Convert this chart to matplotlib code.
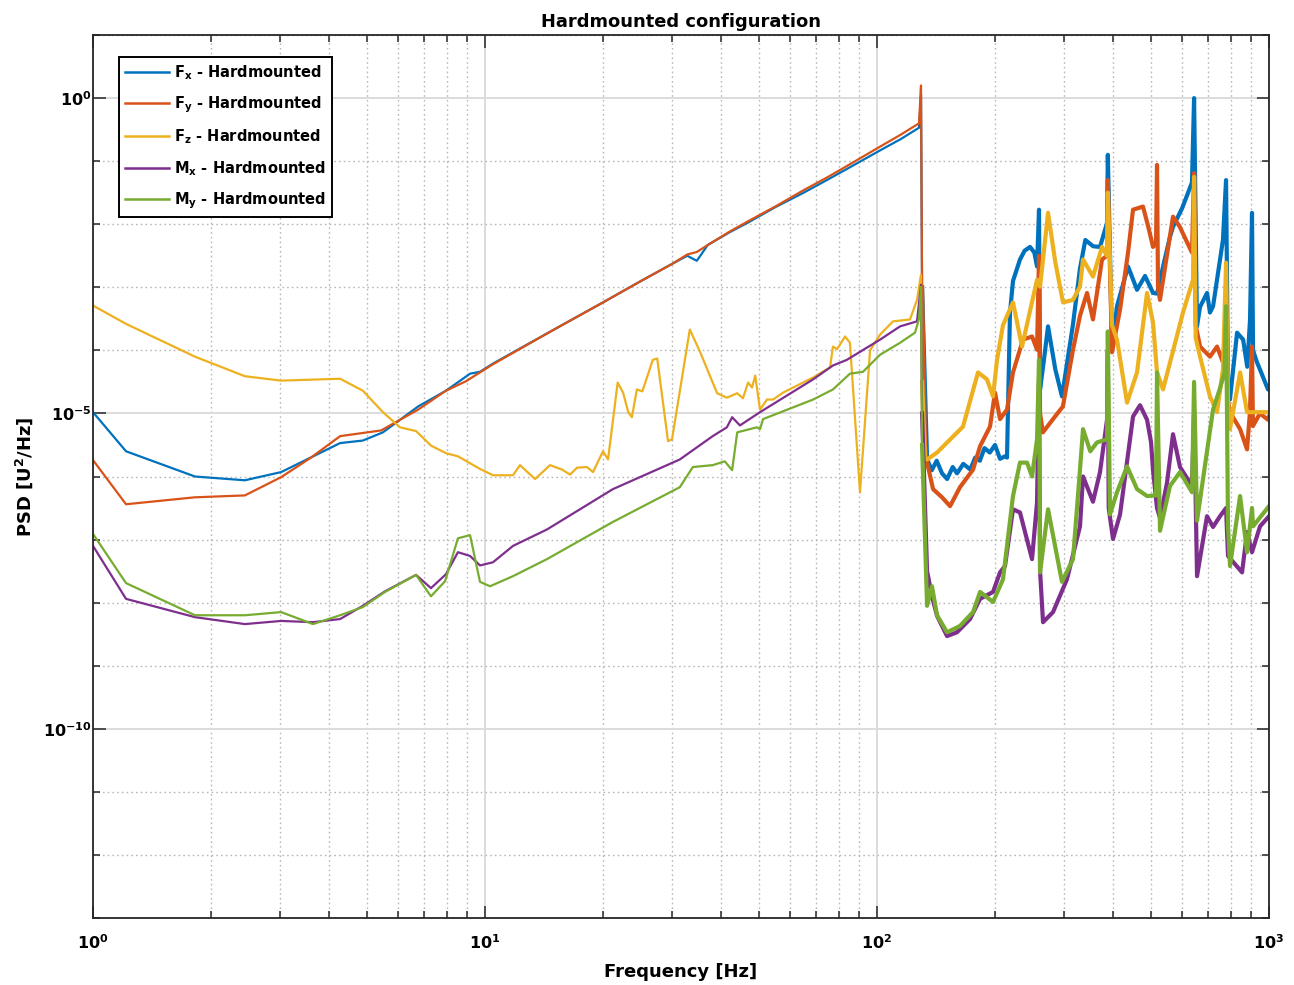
import numpy as np
import matplotlib
matplotlib.use("Agg")
import matplotlib.pyplot as plt
from matplotlib.ticker import FixedLocator, LogFormatterSciNotation, NullFormatter

plt.rcParams['font.family'] = ['DejaVu Sans']
plt.rcParams['font.weight'] = 'bold'
plt.rcParams['mathtext.fontset'] = 'dejavusans'
plt.rcParams['mathtext.default'] = 'bf'

# ---------------- data (frequency in Hz, PSD given as log10 of U^2/Hz) ----------------
fx_freq = [1.0, 1.214, 1.82, 2.44, 3.02, 4.27, 4.88, 5.49, 6.75, 7.95,
           9.16, 9.71, 10.48, 15, 20, 25, 30, 32.8, 34.7, 37,
           42, 47, 55, 65, 75, 88, 101.8, 115, 128, 129.5,
           130.3, 134.2, 138, 142, 146.5, 151, 156, 160, 166, 173,
           178, 183, 188, 194, 200, 206, 212, 214.6, 218.4, 222.3,
           231.6, 238, 245.7, 252, 256, 259, 260.6, 266, 273.1, 285, 296.4,
           316, 329.5, 340, 356, 370.6, 386.2, 388, 397.7, 409.5, 436.9,
           460.6, 482.8, 506, 518, 540, 559, 569, 600, 636, 644,
           655, 667, 695, 707, 720, 763, 777, 786, 795, 829,
           859, 880, 894.6, 905, 910.5, 932, 948, 994, 1000]
fx_log_psd = [-4.98, -5.60, -6.00, -6.06, -5.93, -5.47, -5.43, -5.30, -4.89, -4.64,
              -4.37, -4.34, -4.21, -3.67, -3.24, -2.90, -2.63, -2.50, -2.58, -2.33,
              -2.13, -1.97, -1.73, -1.50, -1.29, -1.05, -0.83, -0.65, -0.47, 0.05,
              -3.00, -5.73, -5.90, -5.75, -5.95, -6.04, -5.85, -5.95, -5.80, -5.89,
              -5.70, -5.75, -5.55, -5.62, -5.50, -5.72, -5.68, -5.70, -3.40, -2.90,
              -2.56, -2.42, -2.36, -2.45, -2.67, -1.77, -4.62, -4.20, -3.62, -4.30, -4.73,
              -3.60, -2.70, -2.25, -2.35, -2.36, -1.98, -0.90, -3.94, -3.30, -2.67,
              -3.04, -2.82, -3.09, -3.10, -2.60, -2.20, -2.04, -1.75, -1.34, 0.00,
              -3.62, -3.31, -3.09, -3.40, -3.30, -2.25, -1.30, -4.50, -4.78, -3.72,
              -3.83, -4.26, -3.51, -1.82, -4.00, -4.19, -4.30, -4.62, -4.60]

fy_freq = [1.0, 1.214, 1.82, 2.44, 3.02, 3.58, 4.27, 5.43, 6.75, 7.95,
           8.94, 10.48, 15, 20, 25, 30, 32.8, 34.7, 37, 42,
           47, 55, 65, 75, 88, 101.8, 115, 128, 129.5, 130.3,
           132.6, 134.2, 139, 146.5, 153.6, 162.8, 175.8, 183.2, 194.2, 200,
           206, 214.6, 222.3, 235.7, 248.6, 256, 259, 260.6, 265, 281.2,
           298, 316, 329.5, 343.4, 355.6, 375, 386, 388, 397.7, 416.9,
           436.9, 449.9, 477, 492, 506, 515, 518, 521, 527, 569,
           592, 636, 644, 650, 667, 707, 737, 763, 777, 786,
           795, 844, 879, 894, 905, 910, 948, 994, 1000]
fy_log_psd = [-5.74, -6.44, -6.33, -6.30, -6.01, -5.71, -5.36, -5.27, -4.94, -4.64,
              -4.49, -4.22, -3.67, -3.24, -2.90, -2.63, -2.48, -2.44, -2.33, -2.12,
              -1.95, -1.72, -1.46, -1.25, -1.00, -0.77, -0.58, -0.40, 0.20, -3.00,
              -5.50, -5.78, -6.20, -6.33, -6.47, -6.17, -5.89, -5.52, -5.21, -4.67,
              -5.09, -4.94, -4.35, -3.83, -3.78, -3.99, -2.50, -5.00, -5.30, -5.09,
              -4.89, -4.00, -3.45, -3.09, -3.51, -2.56, -2.50, -1.30, -4.03, -3.35,
              -2.45, -1.77, -1.72, -2.04, -2.36, -2.30, -1.06, -3.00, -3.20, -1.88,
              -2.04, -2.45, -1.19, -3.60, -3.94, -4.10, -3.94, -4.19, -3.50, -4.80,
              -4.98, -5.25, -5.57, -4.98, -3.94, -5.20, -5.00, -5.10, -5.05]

fz_freq = [1.0, 1.214, 1.82, 2.44, 3.02, 4.27, 4.88, 5.49, 6.07, 6.67,
           7.28, 7.95, 8.53, 9.16, 9.71, 10.48, 11.79, 12.28, 13.42, 14.65,
           15.72, 16.48, 17.17, 18.2, 18.86, 20.0, 20.6, 21.8, 22.5, 23.2,
           23.7, 24.4, 25.2, 26.8, 27.5, 29.3, 30.0, 33.3, 35.4, 39.1,
           41.4, 44.0, 45.5, 46.9, 48.0, 48.9, 50.3, 52.4, 54.3, 57.6,
           68.7, 75.9, 77.2, 79.1, 82.9, 85.3, 90.5, 96.0, 101.8, 109.9,
           121.4, 126.5, 129.5, 130.3, 132.6, 134.2, 142.3, 165.7, 181.0, 190.8,
           197.7, 202.4, 209.6, 222.3, 234.4, 256, 260.6, 273.1, 285, 298.2,
           316.2, 329.5, 335.4, 355.6, 375, 386, 388, 397.7, 409.5, 434.4,
           460.6, 488.5, 506, 518, 536.6, 603.4, 640, 644, 650, 667,
           707, 737, 763, 777, 786, 795, 844, 879, 932, 1000]
fz_log_psd = [-3.29, -3.58, -4.10, -4.41, -4.48, -4.45, -4.64, -4.98, -5.22, -5.28,
              -5.51, -5.63, -5.68, -5.79, -5.88, -5.98, -5.98, -5.82, -6.04, -5.82,
              -5.89, -5.97, -5.86, -5.85, -5.93, -5.60, -5.73, -4.51, -4.67, -4.98,
              -5.06, -4.62, -4.65, -4.15, -4.13, -5.44, -5.41, -3.67, -4.03, -4.68,
              -4.75, -4.68, -4.76, -4.51, -4.59, -4.40, -4.94, -4.78, -4.78, -4.67,
              -4.43, -4.27, -3.94, -3.98, -3.78, -3.88, -6.25, -4.00, -3.75, -3.54,
              -3.51, -3.20, -2.80, -4.50, -5.70, -5.73, -5.62, -5.21, -4.35, -4.46,
              -4.73, -4.15, -3.60, -3.24, -3.94, -2.88, -2.99, -1.82, -2.60, -3.24,
              -3.20, -2.99, -2.56, -2.83, -2.36, -2.50, -1.50, -3.60, -3.83, -4.83,
              -4.35, -3.09, -3.56, -4.35, -4.62, -3.40, -2.88, -1.25, -3.80, -4.10,
              -4.73, -4.98, -4.30, -2.61, -4.80, -5.25, -4.35, -4.98, -4.98, -4.98]

mx_freq = [1.0, 1.214, 1.82, 2.44, 3.02, 3.64, 4.27, 4.88, 5.56, 6.67,
           7.28, 7.95, 8.53, 9.16, 9.71, 10.48, 11.79, 14.39, 21.2, 31.4,
           38.1, 41.4, 42.7, 44.7, 50.3, 68.7, 77.2, 83.8, 101.8, 114.5,
           126.5, 129.5, 130.3, 134.2, 138.1, 142.3, 150.9, 160, 172.7, 183.2,
           197.7, 206, 212.1, 222.3, 231.6, 248.6, 256, 259, 260.6, 265.2,
           281.2, 305.2, 329.5, 335.4, 355.6, 370.6, 386.2, 388, 390, 400,
           416.9, 449.9, 468.8, 488.5, 500, 506, 518, 527.2, 549.3, 569,
           592.9, 636.2, 644, 655.3, 694.8, 719.8, 749.9, 777, 786, 853.6,
           879.1, 905, 948.6, 1000]
mx_log_psd = [-7.10, -7.94, -8.23, -8.34, -8.29, -8.31, -8.26, -8.05, -7.82, -7.56,
              -7.77, -7.55, -7.20, -7.26, -7.41, -7.36, -7.10, -6.84, -6.20, -5.73,
              -5.36, -5.22, -5.06, -5.19, -4.98, -4.46, -4.24, -4.15, -3.83, -3.62,
              -3.54, -2.96, -5.00, -7.50, -7.90, -8.21, -8.53, -8.47, -8.26, -7.94,
              -7.83, -7.52, -7.42, -6.52, -6.57, -7.31, -6.41, -4.50, -7.50, -8.31,
              -8.15, -7.63, -6.79, -6.00, -6.40, -5.93, -5.10, -4.00, -6.50, -6.99,
              -6.60, -5.05, -4.87, -5.10, -5.45, -5.90, -6.50, -6.66, -6.10, -5.33,
              -5.85, -6.15, -5.00, -7.58, -6.63, -6.80, -6.63, -6.50, -7.26, -7.52,
              -6.88, -7.20, -6.79, -6.63]

my_freq = [1.0, 1.214, 1.82, 2.44, 3.02, 3.64, 4.27, 4.88, 5.56, 6.67,
           7.28, 7.91, 8.53, 9.16, 9.71, 10.30, 11.79, 14.39, 21.2, 31.4,
           33.9, 38.1, 40.9, 42.7, 44.0, 49.4, 50.3, 51.2, 68.7, 77.2,
           85.3, 92.1, 101.8, 114.5, 125.0, 128, 129.5, 130.3, 134.2, 138.1,
           142.3, 150.9, 162.8, 175.8, 183.2, 197.7, 209.6, 222.3, 231.6, 241.4,
           248.6, 256, 259, 260.6, 273.1, 296.4, 316.2, 329.5, 335.4, 350,
           364.1, 386.2, 388, 393, 409.5, 434.4, 460.6, 488.5, 515, 518,
           527.2, 559, 592.9, 636.2, 644, 655.3, 694.8, 719.8, 750, 770,
           777, 786, 795.4, 843.6, 879.1, 905, 910.5, 1000]
my_log_psd = [-6.91, -7.69, -8.20, -8.20, -8.15, -8.34, -8.20, -8.07, -7.83, -7.56,
              -7.90, -7.66, -6.98, -6.93, -7.67, -7.74, -7.58, -7.31, -6.72, -6.17,
              -5.85, -5.82, -5.76, -5.90, -5.30, -5.22, -5.25, -5.09, -4.78, -4.62,
              -4.37, -4.34, -4.07, -3.88, -3.72, -3.50, -2.99, -5.50, -8.05, -7.74,
              -8.20, -8.47, -8.37, -8.15, -7.83, -7.99, -7.63, -6.31, -5.78, -5.78,
              -6.00, -5.41, -4.15, -7.52, -6.52, -7.67, -7.31, -5.89, -5.25, -5.60,
              -5.46, -5.41, -3.70, -6.60, -6.25, -5.84, -6.20, -6.31, -6.30, -4.35,
              -6.86, -6.15, -5.93, -6.25, -4.50, -6.70, -5.60, -4.94, -4.60, -4.35,
              -3.30, -6.79, -7.42, -6.31, -7.20, -6.50, -6.79, -6.47]

series_labels = [r'$F_x$ - Hardmounted', r'$F_y$ - Hardmounted', r'$F_z$ - Hardmounted',
                 r'$M_x$ - Hardmounted', r'$M_y$ - Hardmounted']
series_colors = ['#0072BD', '#D95319', '#EDB120', '#7E2F8E', '#77AC30']

x_major = [1, 10, 100, 1000]
y_major = [1e-10, 1e-5, 1e0]

# ---------------- figure ----------------
W, H = 1294, 985
fig = plt.figure(figsize=(W / 100, H / 100), dpi=100)
ax = fig.add_axes([93 / W, 1 - 918 / H, 1176 / W, 883 / H])

all_series = [(fx_freq, fx_log_psd), (fy_freq, fy_log_psd), (fz_freq, fz_log_psd),
              (mx_freq, mx_log_psd), (my_freq, my_log_psd)]
for (fr, lp), lab, col in zip(all_series, series_labels, series_colors):
    fr = np.asarray(fr, dtype=float)
    psd = 10.0 ** np.asarray(lp, dtype=float)
    ax.plot(fr, psd, color=col, lw=1.6, label=lab, solid_joinstyle='round')
    hf = fr >= 130.0
    ax.plot(fr[hf], psd[hf], color=col, lw=3.0, solid_joinstyle='round')

ax.set_xscale('log')
ax.set_yscale('log')
ax.set_xlim(1, 1000)
ax.set_ylim(1e-13, 1e1)

ax.xaxis.set_major_locator(FixedLocator(x_major))
ax.xaxis.set_minor_locator(FixedLocator([m * d for d in (1, 10, 100) for m in range(2, 10)]))
ax.yaxis.set_major_locator(FixedLocator(y_major))
ax.yaxis.set_minor_locator(FixedLocator([10.0 ** k for k in range(-13, 2) if k not in (-10, -5, 0)]))
ax.xaxis.set_major_formatter(LogFormatterSciNotation())
ax.yaxis.set_major_formatter(LogFormatterSciNotation())
ax.xaxis.set_minor_formatter(NullFormatter())
ax.yaxis.set_minor_formatter(NullFormatter())

ax.set_axisbelow(True)
ax.grid(True, which='major', color='#dcdcdc', lw=1.4, ls='-')
ax.grid(True, which='minor', color='#b8b8b8', lw=1.0, ls=(0, (1.2, 2.2)))

ax.tick_params(which='both', direction='in', top=True, right=True, color='#262626',
               width=1.1, labelsize=11.5)
ax.tick_params(which='major', length=9)
ax.tick_params(axis='x', which='major', pad=11)
ax.tick_params(axis='y', which='major', pad=1)
ax.tick_params(which='minor', length=5)
for s in ax.spines.values():
    s.set_color('#262626')
    s.set_linewidth(1.3)

ax.set_title('Hardmounted configuration', fontsize=12.9, fontweight='bold', pad=6)
ax.set_xlabel('Frequency [Hz]', fontsize=13, fontweight='bold', labelpad=8)
ax.set_ylabel(r'PSD [U$^2$/Hz]', fontsize=13, fontweight='bold', labelpad=6)

leg = ax.legend(loc='upper left', bbox_to_anchor=(0.022, 0.975), borderaxespad=0,
                fancybox=False, framealpha=1, edgecolor='black', fontsize=10.5,
                handlelength=3.0, handletextpad=0.35, labelspacing=0.86, borderpad=0.42)
leg.get_frame().set_linewidth(1.4)
for line in leg.get_lines():
    line.set_linewidth(1.8)

fig.savefig('out.png', dpi=100)
